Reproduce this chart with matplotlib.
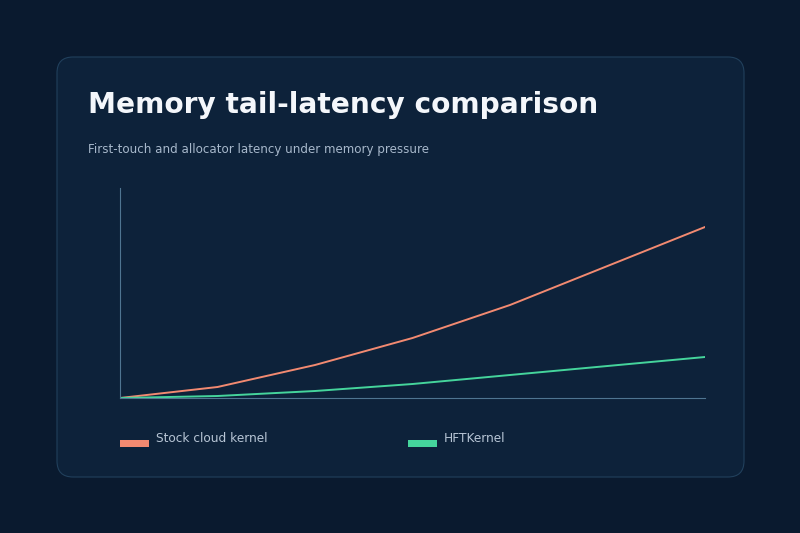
import matplotlib
matplotlib.use("Agg")
import matplotlib.pyplot as plt
from matplotlib.patches import FancyBboxPatch, Rectangle

# data (arbitrary latency units)
pressure_steps = [0, 1, 2, 3, 4, 5, 6]
stock_latency = [0, 11, 33, 60, 93, 132, 171]
hft_latency = [0, 2, 7, 14, 23, 32, 41]
series_names = ["Stock cloud kernel", "HFTKernel"]
series_colors = ["#f28a71", "#45d59c"]

W, H = 800, 533
fig = plt.figure(figsize=(W / 100, H / 100), dpi=100)
fig.patch.set_facecolor("#0a1a2f")

# background layer in pixel coordinates
bg = fig.add_axes([0, 0, 1, 1], zorder=0)
bg.set_xlim(0, W)
bg.set_ylim(H, 0)
bg.axis("off")
card = FancyBboxPatch((57, 57), 687, 420, boxstyle="round,pad=0,rounding_size=16",
                      facecolor="#0d223a", edgecolor="#21405c", linewidth=0.8)
bg.add_patch(card)

bg.text(88, 113, "Memory tail-latency comparison", color="#f4f7fb",
        fontsize=20.2, fontweight="bold", va="baseline", ha="left")
bg.text(88, 152.5, "First-touch and allocator latency under memory pressure",
        color="#a7b8cb", fontsize=8.6, va="baseline", ha="left")

# legend
for i, (name, col) in enumerate(zip(series_names, series_colors)):
    x0 = 120 + i * 288
    bg.add_patch(Rectangle((x0, 440), 29, 7, facecolor=col, edgecolor="none"))
    bg.text(x0 + 36, 439, name, color="#b7c5d5", fontsize=8.7, va="center", ha="left")

# chart
ax = fig.add_axes([120 / W, 1 - 398 / H, 585 / W, 210 / H], zorder=1)
ax.set_facecolor("none")
ax.plot(pressure_steps, stock_latency, color=series_colors[0], linewidth=1.4)
ax.plot(pressure_steps, hft_latency, color=series_colors[1], linewidth=1.4)
ax.set_xlim(0, 6)
ax.set_ylim(0, 210)
for s in ["top", "right"]:
    ax.spines[s].set_visible(False)
for s in ["left", "bottom"]:
    ax.spines[s].set_color("#4f7591")
    ax.spines[s].set_linewidth(0.8)
ax.set_xticks([])
ax.set_yticks([])

fig.savefig("out.png", dpi=100, facecolor=fig.get_facecolor())
